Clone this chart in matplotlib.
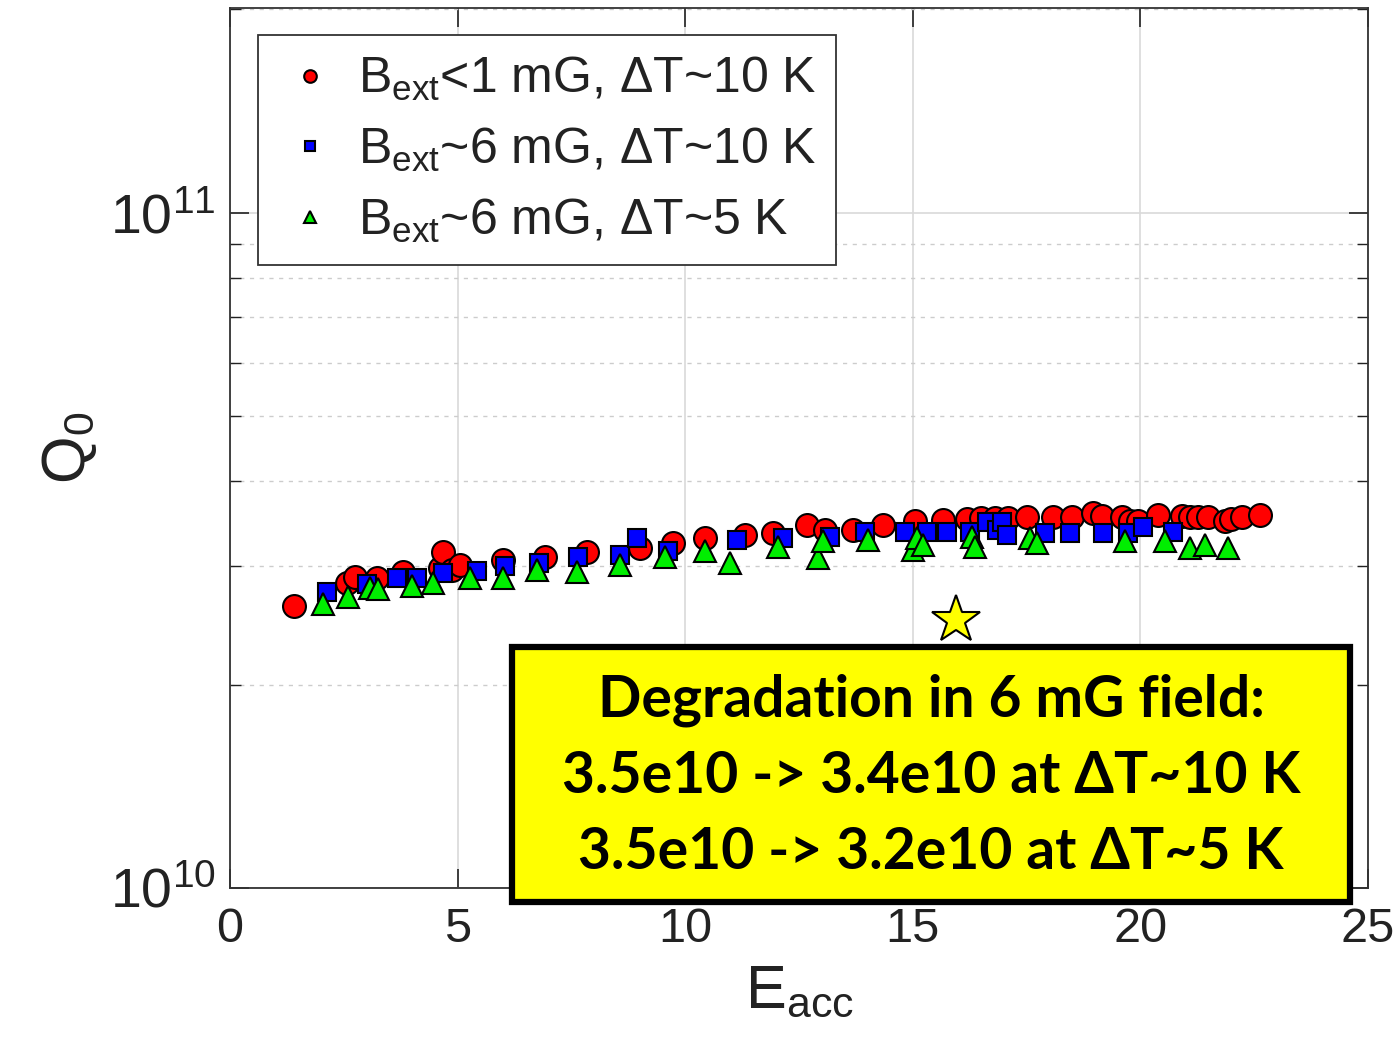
import numpy as np
import matplotlib
matplotlib.use("Agg")
import matplotlib.pyplot as plt
from matplotlib.patches import Rectangle
from matplotlib.ticker import LogLocator

plt.rcParams['font.family'] = ['Liberation Sans', 'DejaVu Sans']
plt.rcParams['mathtext.fontset'] = 'custom'
plt.rcParams['mathtext.rm'] = 'Liberation Sans'
plt.rcParams['mathtext.it'] = 'Liberation Sans:italic'
plt.rcParams['mathtext.bf'] = 'Liberation Sans:bold'

# E_acc values and Q0 (in units of 1e10)
red_x = [1.41, 2.57, 2.75, 3.23, 3.8, 4.61, 4.68, 4.88, 5.05, 6.0, 6.92, 7.84, 9.0, 9.73,
         10.43, 11.31, 11.93, 12.68, 13.07, 13.69, 14.35, 15.05, 15.66, 16.2, 16.5, 16.8,
         17.1, 17.5, 18.08, 18.5, 18.96, 19.15, 19.6, 19.77, 19.95, 20.39, 20.91, 21.09,
         21.27, 21.48, 21.86, 22.0, 22.23, 22.63]
red_q = [2.62, 2.83, 2.89, 2.88, 2.94, 2.98, 3.14, 2.96, 3.01, 3.06, 3.09, 3.14, 3.19, 3.24,
         3.30, 3.33, 3.36, 3.45, 3.39, 3.39, 3.45, 3.49, 3.51, 3.52, 3.53, 3.53,
         3.53, 3.54, 3.54, 3.54, 3.59, 3.56, 3.54, 3.50, 3.50, 3.57, 3.56, 3.54,
         3.54, 3.54, 3.50, 3.52, 3.54, 3.57]

blue_x = [2.13, 3.0, 3.67, 4.1, 4.68, 5.43, 6.04, 6.8, 7.65, 8.57, 8.94, 9.62, 11.14, 12.15,
          13.18, 13.95, 14.83, 15.31, 15.75, 16.26, 16.63, 16.85, 16.96, 17.07, 17.9, 18.45,
          19.18, 19.73, 20.06, 20.72]
blue_q = [2.74, 2.82, 2.88, 2.88, 2.93, 2.95, 3.0, 3.03, 3.09, 3.11, 3.30, 3.15, 3.28, 3.30,
          3.31, 3.37, 3.37, 3.37, 3.37, 3.37, 3.48, 3.39, 3.48, 3.33, 3.36, 3.36,
          3.36, 3.36, 3.42, 3.37]

green_x = [2.05, 2.6, 3.08, 3.25, 4.0, 4.46, 5.27, 6.0, 6.74, 7.62, 8.57, 9.56, 10.43, 10.98,
           12.04, 12.92, 13.03, 14.02, 15.0, 15.1, 15.22, 16.3, 16.37, 17.57, 17.73, 19.66,
           20.54, 21.09, 21.42, 21.92]
green_q = [2.63, 2.70, 2.78, 2.77, 2.80, 2.83, 2.88, 2.88, 2.96, 2.94, 3.01, 3.09, 3.15, 3.03,
           3.20, 3.08, 3.26, 3.28, 3.17, 3.30, 3.22, 3.31, 3.20, 3.30, 3.24, 3.26,
           3.26, 3.19, 3.22, 3.19]

star_x = [15.95]
star_q = [2.49]

labels = [r'B$_{\mathrm{ext}}$<1 mG, ΔT~10 K',
          r'B$_{\mathrm{ext}}$~6 mG, ΔT~10 K',
          r'B$_{\mathrm{ext}}$~6 mG, ΔT~5 K']
note_lines = ['Degradation in 6 mG field:',
              '3.5e10 -> 3.4e10 at ΔT~10 K',
              '3.5e10 -> 3.2e10 at ΔT~5 K']

fig = plt.figure(figsize=(13.98, 10.41), dpi=100)
ax = fig.add_axes([0.1645, 0.147, 0.814, 0.8453])

ax.plot(np.array(red_x), np.array(red_q) * 1e10, 'o', ms=16.5, mfc='#ff0000', mec='k',
        mew=1.5, label=labels[0])
ax.plot(np.array(blue_x), np.array(blue_q) * 1e10, 's', ms=13.5, mfc='#0000ff', mec='k',
        mew=1.5, label=labels[1])
ax.plot(np.array(green_x), np.array(green_q) * 1e10, '^', ms=16, mfc='#00ee00', mec='k',
        mew=1.5, label=labels[2])
ax.plot(star_x, np.array(star_q) * 1e10, '*', ms=36, mfc='#ffff00', mec='k', mew=1.5,
        zorder=5)

ax.set_yscale('log')
ax.set_xlim(0, 25)
ax.set_ylim(1e10, 2.01e11)
ax.set_xticks([0, 5, 10, 15, 20, 25])
ax.yaxis.set_major_locator(LogLocator(base=10, numticks=5))
ax.yaxis.set_minor_locator(LogLocator(base=10, subs=np.arange(2, 10), numticks=20))

ax.grid(True, which='major', axis='x', color='#d9d9d9', lw=1.2, ls='-')
ax.grid(True, which='major', axis='y', color='#d9d9d9', lw=1.2, ls='-')
ax.grid(True, which='minor', axis='y', color='#cccccc', lw=1.0, ls=(0, (3, 4)))
ax.set_axisbelow(True)

ax.tick_params(axis='both', which='both', direction='in', top=True, right=True,
               colors='#222222', labelcolor='#222222')
ax.tick_params(axis='both', which='major', length=14, width=1.2, labelsize=35, pad=14)
ax.tick_params(axis='y', which='major', labelsize=40, pad=10)
ax.tick_params(axis='y', which='minor', length=8, width=1.0, labelleft=False)
for s in ax.spines.values():
    s.set_color('#333333')
    s.set_linewidth(1.3)

ax.set_xlabel(r'E$_{\mathrm{acc}}$', fontsize=44, color='#222222', labelpad=8)
ax.set_ylabel(r'Q$_{\mathrm{0}}$', fontsize=44, color='#222222', labelpad=8)

leg = ax.legend(loc='upper left', bbox_to_anchor=(0.0246, 0.969), borderaxespad=0,
                fontsize=36, markerscale=0.55, handlelength=1.3, handletextpad=0.3,
                labelspacing=0.45, borderpad=0.4, fancybox=False, framealpha=1)
leg.get_frame().set_edgecolor('#333333')
leg.get_frame().set_linewidth(1.3)
for t in leg.get_texts():
    t.set_color('#222222')

# yellow annotation box
ax.add_patch(Rectangle((0.248, -0.016), 0.736, 0.29, transform=ax.transAxes,
                       facecolor='#ffff00', edgecolor='k', lw=4.5, clip_on=False, zorder=10))
for yy, line in zip([0.2136, 0.127, 0.040], note_lines):
    ax.text(0.616, yy, line, transform=ax.transAxes, ha='center', va='center',
            fontsize=41, fontweight='bold', family=['Lato', 'DejaVu Sans'],
            color='k', zorder=11, clip_on=False)

fig.savefig('out.png', dpi=100)
